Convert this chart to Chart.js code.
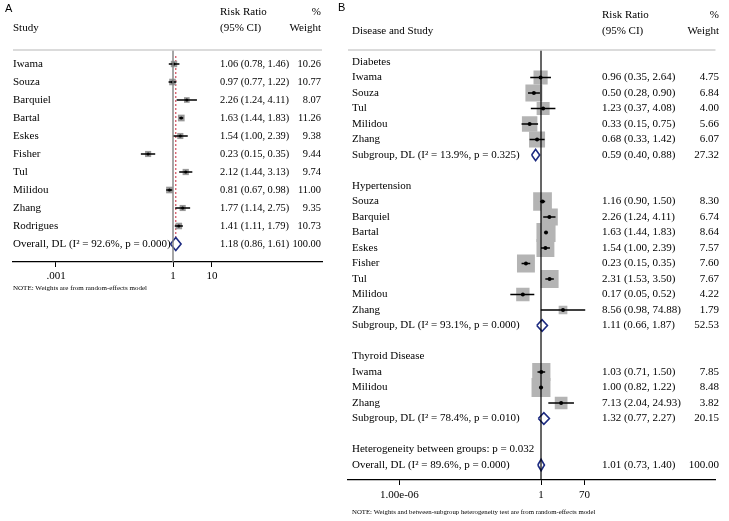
<!DOCTYPE html>
<html>
<head>
<meta charset="utf-8">
<script src="https://cdn.jsdelivr.net/npm/chart.js@4.4.1/dist/chart.umd.min.js"></script>
<style>
  body { margin: 0; background: #fff; }
  #wrap { position: relative; width: 729px; height: 521px; }
  canvas { position: absolute; top: 0; }
  #chartA { left: 0; }
  #chartB { left: 330px; }
</style>
</head>
<body>
<div id="wrap">
  <canvas id="chartA" width="330" height="300"></canvas>
  <canvas id="chartB" width="399" height="521"></canvas>
</div>
<script>
// ---- panel A: all studies ----
const labelsA = ["Iwama", "Souza", "Barquiel", "Bartal", "Eskes", "Fisher", "Tul", "Milidou", "Zhang", "Rodrigues",
  "Overall, DL (I\u00b2 = 92.6%, p = 0.000)"];
const kindA = ["s", "s", "s", "s", "s", "s", "s", "s", "s", "s", "d"];
const rrA = [1.06, 0.97, 2.26, 1.63, 1.54, 0.23, 2.12, 0.81, 1.77, 1.41, 1.18];
const loA = [0.78, 0.77, 1.24, 1.44, 1.00, 0.15, 1.44, 0.67, 1.14, 1.11, 0.86];
const hiA = [1.46, 1.22, 4.11, 1.83, 2.39, 0.35, 3.13, 0.98, 2.75, 1.79, 1.61];
const weightA = [10.26, 10.77, 8.07, 11.26, 9.38, 9.44, 9.74, 11.00, 9.35, 10.73, 100.00];
const ticksA = [0.001, 1, 10];
const tickLabelsA = [".001", "1", "10"];

// ---- panel B: by disease ----
const labelsB = ["Diabetes", "Iwama", "Souza", "Tul", "Milidou", "Zhang",
  "Subgroup, DL (I\u00b2 = 13.9%, p = 0.325)", "",
  "Hypertension", "Souza", "Barquiel", "Bartal", "Eskes", "Fisher", "Tul", "Milidou", "Zhang",
  "Subgroup, DL (I\u00b2 = 93.1%, p = 0.000)", "",
  "Thyroid Disease", "Iwama", "Milidou", "Zhang",
  "Subgroup, DL (I\u00b2 = 78.4%, p = 0.010)", "",
  "Heterogeneity between groups: p = 0.032",
  "Overall, DL (I\u00b2 = 89.6%, p = 0.000)"];
const kindB = ["h", "s", "s", "s", "s", "s", "d", "",
  "h", "s", "s", "s", "s", "s", "s", "s", "s", "d", "",
  "h", "s", "s", "s", "d", "", "t", "d"];
const rrB = [null, 0.96, 0.50, 1.23, 0.33, 0.68, 0.59, null,
  null, 1.16, 2.26, 1.63, 1.54, 0.23, 2.31, 0.17, 8.56, 1.11, null,
  null, 1.03, 1.00, 7.13, 1.32, null, null, 1.01];
const loB = [null, 0.35, 0.28, 0.37, 0.15, 0.33, 0.40, null,
  null, 0.90, 1.24, 1.44, 1.00, 0.15, 1.53, 0.05, 0.98, 0.66, null,
  null, 0.71, 0.82, 2.04, 0.77, null, null, 0.73];
const hiB = [null, 2.64, 0.90, 4.08, 0.75, 1.42, 0.88, null,
  null, 1.50, 4.11, 1.83, 2.39, 0.35, 3.50, 0.52, 74.88, 1.87, null,
  null, 1.50, 1.22, 24.93, 2.27, null, null, 1.40];
const weightB = [null, 4.75, 6.84, 4.00, 5.66, 6.07, 27.32, null,
  null, 8.30, 6.74, 8.64, 7.57, 7.60, 7.67, 4.22, 1.79, 52.53, null,
  null, 7.85, 8.48, 3.82, 20.15, null, null, 100.00];
const ticksB = [1e-6, 1, 70];
const tickLabelsB = ["1.00e-06", "1", "70"];

const SERIF = "'Liberation Serif', 'DejaVu Serif', serif";
const NAVY = "#1c2a80";

function textPlugin(p) {
  return {
    id: "forestText",
    beforeDatasetsDraw(chart) {
      if (!p.dashed) return;
      const { ctx, chartArea: a, scales: { x, y } } = chart;
      const xd = x.getPixelForValue(p.dashed);
      ctx.save();
      ctx.strokeStyle = "#c8283a";
      ctx.lineWidth = 1;
      ctx.setLineDash([2, 2]);
      ctx.beginPath();
      ctx.moveTo(xd, a.top + 6);
      ctx.lineTo(xd, y.getPixelForValue(p.rows.length - 1) - 7);
      ctx.stroke();
      ctx.restore();
    },
    afterDatasetsDraw(chart) {
      const { ctx, chartArea: a, scales: { x } } = chart;
      const x1 = x.getPixelForValue(1);
      ctx.save();
      ctx.strokeStyle = p.nullColor;
      ctx.lineWidth = p.nullWidth;
      ctx.beginPath();
      ctx.moveTo(x1, a.top);
      ctx.lineTo(x1, a.bottom);
      ctx.stroke();
      ctx.restore();
    },
    afterDraw(chart) {
      const { ctx, chartArea: a, scales: { y } } = chart;
      ctx.save();
      // header rule
      ctx.strokeStyle = "#cfcfcf";
      ctx.lineWidth = 1.5;
      ctx.beginPath();
      ctx.moveTo(a.left, a.top);
      ctx.lineTo(a.right, a.top);
      ctx.stroke();

      ctx.fillStyle = "#000";
      ctx.textBaseline = "middle";
      ctx.font = "11px 'Liberation Sans', Arial, sans-serif";
      ctx.textAlign = "left";
      ctx.fillText(p.letter, p.letterX, p.letterY);

      const labFont = p.fontSize + "px " + SERIF;
      const valFont = p.valueSize + "px " + SERIF;
      ctx.font = labFont;
      ctx.fillText(p.studyHead, p.labelX, p.head2);
      ctx.fillText("Risk Ratio", p.valueX, p.head1);
      ctx.fillText("(95% CI)", p.valueX, p.head2);
      ctx.textAlign = "right";
      ctx.fillText("%", p.weightX, p.head1);
      ctx.fillText("Weight", p.weightX, p.head2);

      p.rows.forEach((lab, i) => {
        const yy = y.getPixelForValue(i);
        ctx.textAlign = "left";
        ctx.font = labFont;
        if (lab) ctx.fillText(lab, p.labelX, yy);
        if (p.kind[i] === "s" || p.kind[i] === "d") {
          ctx.font = valFont;
          const txt = p.rr[i].toFixed(2) + " (" + p.lo[i].toFixed(2) + ", " + p.hi[i].toFixed(2) + ")";
          ctx.fillText(txt, p.valueX, yy);
          ctx.textAlign = "right";
          ctx.fillText(p.w[i].toFixed(2), p.weightX, yy);
        }
      });

      ctx.textAlign = "left";
      ctx.font = p.noteSize + "px " + SERIF;
      ctx.fillText(p.note, p.labelX, p.noteY);
      ctx.restore();
    }
  };
}

function makeForest(id, p) {
  const boxes = [], boxR = [], lines = [], dots = [], diamonds = [];
  p.kind.forEach((k, i) => {
    if (k === "s") {
      boxes.push({ x: p.rr[i], y: i });
      boxR.push(p.boxK * Math.sqrt(p.w[i]) / Math.SQRT2);
      lines.push({ x: p.lo[i], y: i }, { x: p.hi[i], y: i }, { x: null, y: null });
      dots.push({ x: p.rr[i], y: i });
    } else if (k === "d") {
      const h = p.dh;
      diamonds.push({ x: p.lo[i], y: i }, { x: p.rr[i], y: i - h }, { x: p.hi[i], y: i },
        { x: p.rr[i], y: i + h }, { x: p.lo[i], y: i }, { x: null, y: null });
    }
  });

  return new Chart(document.getElementById(id), {
    type: "scatter",
    data: {
      datasets: [
        { data: dots, pointStyle: "circle", pointRadius: p.dotR, backgroundColor: "#000", borderWidth: 0, order: 1 },
        { data: diamonds, showLine: true, pointRadius: 0, borderColor: NAVY, borderWidth: 1.6,
          borderJoinStyle: "miter", fill: false, order: 1 },
        { data: lines, showLine: true, pointRadius: 0, borderColor: "#000", borderWidth: p.ciW, fill: false, order: 2 },
        { data: boxes, pointStyle: "rect", pointRadius: boxR, backgroundColor: p.boxColor, borderWidth: 0, order: 3 }
      ]
    },
    options: {
      responsive: false,
      animation: false,
      devicePixelRatio: 1,
      events: [],
      layout: { padding: p.padding },
      plugins: { legend: { display: false }, tooltip: { enabled: false } },
      scales: {
        x: {
          type: "logarithmic",
          bounds: "data",
          min: p.xmin,
          max: p.xmax,
          afterBuildTicks: (s) => { s.ticks = p.ticks.map(v => ({ value: v })); },
          ticks: {
            callback: (v) => p.tickLabels[p.ticks.indexOf(v)],
            font: { family: SERIF, size: 11 },
            color: "#000",
            padding: p.tickPad,
            maxRotation: 0,
            autoSkip: false
          },
          grid: { display: true, drawOnChartArea: false, drawTicks: true, tickLength: 5, color: "#000" },
          border: { display: true, color: "#000", width: 1.2 }
        },
        y: {
          type: "linear",
          display: false,
          reverse: true,
          bounds: "data",
          min: p.ymin,
          max: p.ymax
        }
      }
    },
    plugins: [textPlugin(p)]
  });
}

// panel A: chart area x 13..322, y 50..262; 1 at x=173, 39 px per decade
makeForest("chartA", {
  rows: labelsA, kind: kindA, rr: rrA, lo: loA, hi: hiA, w: weightA,
  ticks: ticksA, tickLabels: tickLabelsA,
  xmin: Math.pow(10, -160 / 39), xmax: Math.pow(10, 149 / 39),
  ymin: -14 / 18, ymax: 198 / 18,
  padding: { left: 13, right: 8, top: 50, bottom: 300 - 262 - 24.2 }, tickPad: 3,
  boxK: 2.0, boxColor: "#999999", dotR: 1.5, ciW: 1.3, dh: 0.36,
  nullColor: "#808080", nullWidth: 1.4, dashed: 1.18,
  letter: "A", letterX: 5, letterY: 9,
  studyHead: "Study", fontSize: 11, valueSize: 10.4, head1: 12, head2: 28,
  labelX: 13, valueX: 220, weightX: 321,
  note: "NOTE: Weights are from random-effects model", noteSize: 7, noteY: 288
});

// panel B: chart area x 348..725 (canvas offset 330), y 50..480; 1 at x=546, 24.2 px per decade
makeForest("chartB", {
  rows: labelsB, kind: kindB, rr: rrB, lo: loB, hi: hiB, w: weightB,
  ticks: ticksB, tickLabels: tickLabelsB,
  xmin: Math.pow(10, -198 / 24.2), xmax: Math.pow(10, 179 / 24.2),
  ymin: -12 / 15.5, ymax: 418 / 15.5,
  padding: { left: 18, right: 4, top: 50, bottom: 521 - 480 - 26.2 }, tickPad: 4,
  boxK: 6.5, boxColor: "#b4b4b4", dotR: 2, ciW: 1.5, dh: 0.37,
  nullColor: "#000", nullWidth: 1.2, dashed: null,
  letter: "B", letterX: 8, letterY: 8,
  studyHead: "Disease and Study", fontSize: 11, valueSize: 11, head1: 15, head2: 31,
  labelX: 22, valueX: 272, weightX: 389,
  note: "NOTE: Weights and between-subgroup heterogeneity test are from random-effects model", noteSize: 6.8, noteY: 512
});
</script>
</body>
</html>
